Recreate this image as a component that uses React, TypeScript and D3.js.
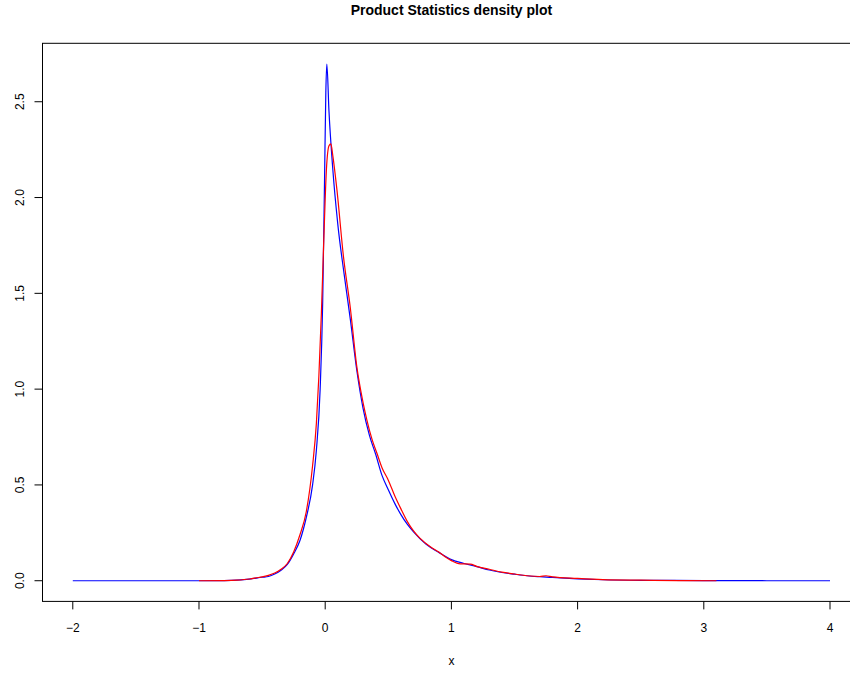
import React from "react";
import * as d3 from "d3";

const blueX = [-2.0, -1.0, -0.8, -0.7, -0.6, -0.5, -0.45, -0.4, -0.35, -0.3, -0.25, -0.2, -0.15, -0.1, -0.07, -0.04, -0.02, -0.005, 0.005, 0.013, 0.03, 0.06, 0.1, 0.15, 0.2, 0.25, 0.3, 0.35, 0.4, 0.45, 0.5, 0.55, 0.6, 0.65, 0.7, 0.8, 0.9, 1.0, 1.1, 1.2, 1.3, 1.4, 1.5, 1.6, 1.7, 1.8, 2.0, 2.2, 2.5, 3.0, 3.5, 4.0];
const blueY = [0, 0, 0.001, 0.003, 0.008, 0.018, 0.022, 0.035, 0.055, 0.085, 0.14, 0.21, 0.33, 0.5, 0.68, 1.0, 1.45, 2.1, 2.55, 2.697, 2.45, 2.15, 1.86, 1.6, 1.36, 1.1, 0.9, 0.76, 0.66, 0.55, 0.475, 0.405, 0.345, 0.295, 0.255, 0.19, 0.148, 0.11, 0.09, 0.074, 0.056, 0.043, 0.034, 0.026, 0.021, 0.017, 0.01, 0.005, 0.002, 0.001, 0, 0];

const redX = [-1.0, -0.8, -0.7, -0.6, -0.55, -0.5, -0.45, -0.4, -0.35, -0.3, -0.25, -0.2, -0.15, -0.1, -0.07, -0.05, -0.03, -0.01, 0.01, 0.03, 0.045, 0.06, 0.093, 0.145, 0.198, 0.25, 0.3, 0.33, 0.37, 0.41, 0.45, 0.5, 0.55, 0.6, 0.65, 0.7, 0.75, 0.833, 0.9, 0.95, 1.0, 1.07, 1.15, 1.2, 1.3, 1.4, 1.5, 1.6, 1.7, 1.75, 1.8, 2.0, 2.2, 2.5, 2.8, 3.1];
const redY = [0, 0.001, 0.003, 0.009, 0.015, 0.02, 0.028, 0.04, 0.06, 0.09, 0.15, 0.24, 0.36, 0.6, 0.82, 1.07, 1.4, 1.8, 2.15, 2.27, 2.28, 2.22, 2.04, 1.69, 1.43, 1.12, 0.93, 0.84, 0.74, 0.665, 0.59, 0.525, 0.445, 0.375, 0.31, 0.26, 0.222, 0.177, 0.15, 0.125, 0.105, 0.088, 0.087, 0.075, 0.06, 0.045, 0.035, 0.026, 0.022, 0.026, 0.02, 0.012, 0.006, 0.003, 0.001, 0];

const xTicks = [-2, -1, 0, 1, 2, 3, 4];
const yTicks = [0, 0.5, 1.0, 1.5, 2.0, 2.5];
const title = "Product Statistics density plot";
const xLabel = "x";

export default function App() {
  const W = 850, H = 673;
  const x = d3.scaleLinear().domain([-2.24, 4.24]).range([42.5, 860.3]);
  const y = d3.scaleLinear().domain([-0.1079, 2.805]).range([601.4, 43.3]);
  const line = d3.line<[number, number]>().x(d => x(d[0])).y(d => y(d[1])).curve(d3.curveMonotoneX);
  const blue = blueX.map((v, i) => [v, blueY[i]] as [number, number]);
  const red = redX.map((v, i) => [v, redY[i]] as [number, number]);
  const font = "'Liberation Sans', Arial, Helvetica, sans-serif";
  const [x0, x1] = x.range();
  const [y0, y1] = y.range();
  return (
    <svg width={W} height={H} style={{ position: "absolute", left: 0, top: 0, background: "#fff" }} fontFamily={font}>
      <rect x={0} y={0} width={W} height={H} fill="#fff" />
      <text x={(x0 + x1) / 2} y={15} textAnchor="middle" fontSize={14} fontWeight="bold">{title}</text>
      <path d={line(blue) || ""} fill="none" stroke="#0000FF" strokeWidth={1.2} />
      <path d={line(red) || ""} fill="none" stroke="#FF0000" strokeWidth={1.2} />
      <rect x={x0} y={y1} width={x1 - x0} height={y0 - y1} fill="none" stroke="#000" strokeWidth={1} />
      {xTicks.map(t => (
        <g key={"x" + t}>
          <line x1={x(t)} x2={x(t)} y1={y0} y2={y0 + 8} stroke="#000" strokeWidth={1} />
          <text x={x(t)} y={632} textAnchor="middle" fontSize={12}>{t < 0 ? "\u2212" + Math.abs(t) : String(t)}</text>
        </g>
      ))}
      {yTicks.map(t => (
        <g key={"y" + t}>
          <line x1={x0} x2={x0 - 8} y1={y(t)} y2={y(t)} stroke="#000" strokeWidth={1} />
          <text transform={`translate(23.5,${y(t)}) rotate(-90)`} textAnchor="middle" fontSize={12}>{t.toFixed(1)}</text>
        </g>
      ))}
      <text x={(x0 + x1) / 2} y={664.5} textAnchor="middle" fontSize={12}>{xLabel}</text>
    </svg>
  );
}
